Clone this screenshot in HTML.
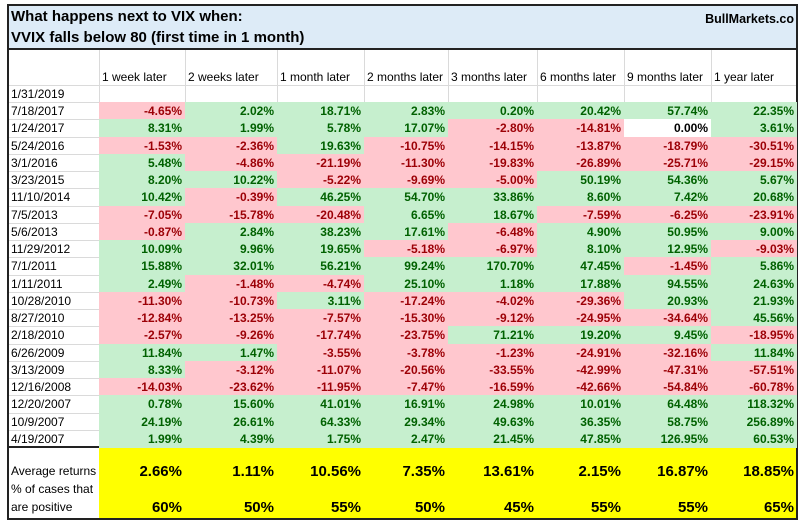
<!DOCTYPE html>
<html><head><meta charset="utf-8"><style>
body{margin:0;width:800px;height:525px;background:#fff;position:relative;overflow:hidden;font-family:"Liberation Sans",sans-serif;}
.a{position:absolute;box-sizing:border-box;}
.t{position:absolute;white-space:nowrap;font-size:12px;}
</style></head><body>
<div class="a" style="left:7px;top:4px;width:791px;height:516px;border:2px solid #222;"></div>
<div class="a" style="left:9px;top:6px;width:787px;height:44px;background:#ddebf7;border-bottom:2px solid #222;"></div>
<div class="t" style="left:11px;top:8px;font-size:15px;font-weight:bold;">What happens next to VIX when:</div>
<div class="t" style="left:11px;top:29px;font-size:15px;font-weight:bold;">VVIX falls below 80 (first time in 1 month)</div>
<div class="t" style="right:6px;top:12px;font-size:12.5px;font-weight:bold;">BullMarkets.co</div>
<div class="a" style="left:99px;top:447px;width:697px;height:71px;background:#ffff00;"></div>
<div class="a" style="left:9px;top:446px;width:787px;height:2px;background:#222;"></div>
<div class="t" style="left:11px;top:464px;">Average returns</div>
<div class="t" style="left:11px;top:482px;">% of cases that</div>
<div class="t" style="left:11px;top:500px;">are positive</div>
<div id="g"></div>
<script>
const colX=[99,185,277,364,448,537,624,711,797];
const headers=["1 week later","2 weeks later","1 month later","2 months later","3 months later","6 months later","9 months later","1 year later"];
const dates=["7/18/2017","1/24/2017","5/24/2016","3/1/2016","3/23/2015","11/10/2014","7/5/2013","5/6/2013","11/29/2012","7/1/2011","1/11/2011","10/28/2010","8/27/2010","2/18/2010","6/26/2009","3/13/2009","12/16/2008","12/20/2007","10/9/2007","4/19/2007"];
const values=[
[-4.65,2.02,18.71,2.83,0.20,20.42,57.74,22.35],
[8.31,1.99,5.78,17.07,-2.80,-14.81,0.00,3.61],
[-1.53,-2.36,19.63,-10.75,-14.15,-13.87,-18.79,-30.51],
[5.48,-4.86,-21.19,-11.30,-19.83,-26.89,-25.71,-29.15],
[8.20,10.22,-5.22,-9.69,-5.00,50.19,54.36,5.67],
[10.42,-0.39,46.25,54.70,33.86,8.60,7.42,20.68],
[-7.05,-15.78,-20.48,6.65,18.67,-7.59,-6.25,-23.91],
[-0.87,2.84,38.23,17.61,-6.48,4.90,50.95,9.00],
[10.09,9.96,19.65,-5.18,-6.97,8.10,12.95,-9.03],
[15.88,32.01,56.21,99.24,170.70,47.45,-1.45,5.86],
[2.49,-1.48,-4.74,25.10,1.18,17.88,94.55,24.63],
[-11.30,-10.73,3.11,-17.24,-4.02,-29.36,20.93,21.93],
[-12.84,-13.25,-7.57,-15.30,-9.12,-24.95,-34.64,45.56],
[-2.57,-9.26,-17.74,-23.75,71.21,19.20,9.45,-18.95],
[11.84,1.47,-3.55,-3.78,-1.23,-24.91,-32.16,11.84],
[8.33,-3.12,-11.07,-20.56,-33.55,-42.99,-47.31,-57.51],
[-14.03,-23.62,-11.95,-7.47,-16.59,-42.66,-54.84,-60.78],
[0.78,15.60,41.01,16.91,24.98,10.01,64.48,118.32],
[24.19,26.61,64.33,29.34,49.63,36.35,58.75,256.89],
[1.99,4.39,1.75,2.47,21.45,47.85,126.95,60.53]];
const averages=[2.66,1.11,10.56,7.35,13.61,2.15,16.87,18.85];
const positives=[60,50,55,50,45,55,55,65];
const g=document.getElementById('g');
const rowTop=102, rowH=17.25;
function mk(cls,style,txt){const d=document.createElement('div');d.className=cls;d.style.cssText=style;if(txt!==undefined)d.textContent=txt;g.appendChild(d);return d;}
for(let i=0;i<colX.length-1;i++){
 const l=mk('a',`left:${colX[i]}px;top:50px;width:1px;height:397px;background:#dadada;`);
 
 
}
for(let r=0;r<=dates.length;r++){
 const y=r===0?85:rowTop+(r-1)*rowH;
 const l=mk('a',`left:9px;top:${y}px;width:787px;height:1px;background:#dadada;`);
 
 
}
headers.forEach((h,i)=>{
 const d=mk('t',`left:${colX[i]+3}px;top:70px;`,h);
 
 
});
const d0=mk('t',`left:11px;top:87px;`,'1/31/2019');


dates.forEach((dt,r)=>{
 const y=rowTop+r*rowH;
 const dl=mk('t',`left:11px;top:${y+2}px;`,dt);
 
 
 values[r].forEach((v,c)=>{
  let bg='#c6efce',fg='#006100';
  if(v<0){bg='#ffc7ce';fg='#9c0006';}
  if(v===0){bg='#ffffff';fg='#000';}
  const cell=mk('a',`left:${colX[c]}px;top:${y}px;width:${colX[c+1]-colX[c]}px;height:${rowH+0.6}px;background:${bg};color:${fg};font-size:12px;font-weight:bold;text-align:right;padding-right:3px;line-height:${rowH+1}px;`,v.toFixed(2)+'%');
  
  
 });
});
averages.forEach((v,c)=>{
 const d=mk('a',`left:${colX[c]}px;top:463px;width:${colX[c+1]-colX[c]}px;text-align:right;padding-right:3px;font-size:15px;font-weight:bold;`,v.toFixed(2)+'%');
 
 
});
positives.forEach((v,c)=>{
 const d=mk('a',`left:${colX[c]}px;top:499px;width:${colX[c+1]-colX[c]}px;text-align:right;padding-right:3px;font-size:15px;font-weight:bold;`,v+'%');
 
 
});
</script>
</body></html>
